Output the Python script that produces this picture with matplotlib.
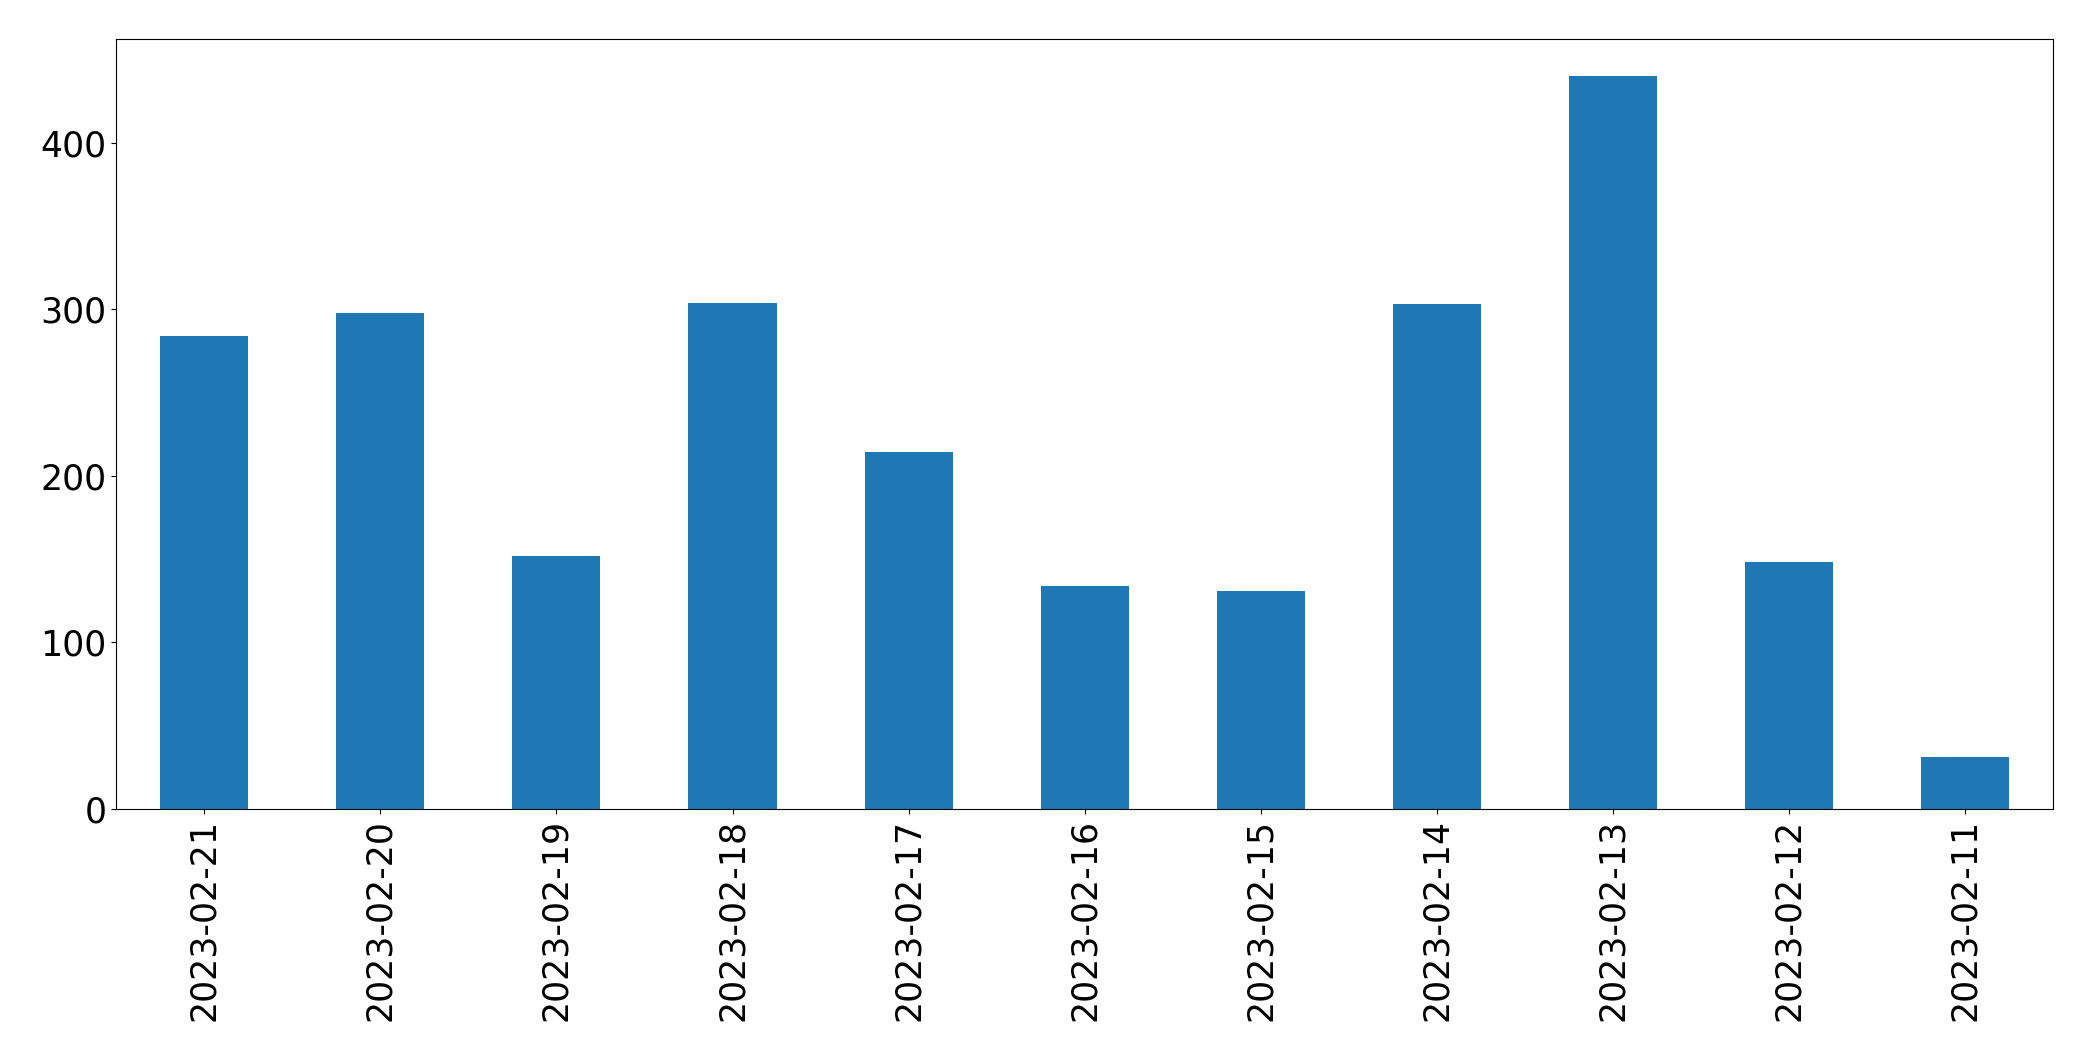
import matplotlib
matplotlib.use("Agg")
import matplotlib.pyplot as plt

# dates as shown on the x axis (newest first)
dates = ['2023-02-21', '2023-02-20', '2023-02-19', '2023-02-18', '2023-02-17',
         '2023-02-16', '2023-02-15', '2023-02-14', '2023-02-13', '2023-02-12',
         '2023-02-11']
counts = [284, 298, 152, 304, 214, 134, 131, 303, 440, 148, 31]

fig, ax = plt.subplots(figsize=(20.93, 10.61), dpi=100)
fig.subplots_adjust(left=0.0555, right=0.981, top=0.963, bottom=0.2375)

pos = range(len(dates))
ax.bar(pos, counts, width=0.5, color='#1f77b4')

ax.set_xlim(-0.5, len(dates) - 0.5)
ax.set_ylim(0, max(counts) * 1.05)
ax.set_xticks(list(pos))
ax.set_xticklabels(dates, rotation=90)
ax.set_yticks([0, 100, 200, 300, 400])
ax.tick_params(axis='both', labelsize=25)

fig.savefig('out.png', dpi=100)
